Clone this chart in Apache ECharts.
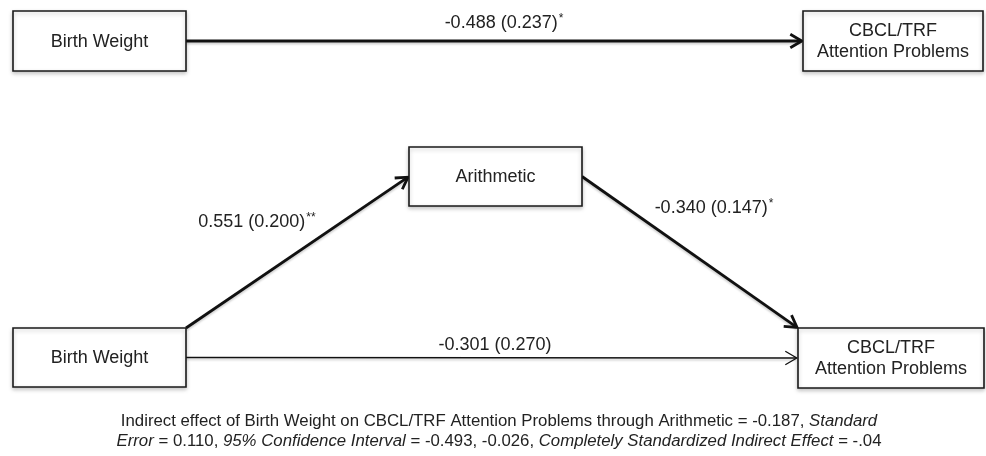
<!DOCTYPE html>
<html><head><meta charset="utf-8">
<script src="https://cdn.jsdelivr.net/npm/echarts@6/dist/echarts.min.js"></script>
<style>html,body{margin:0;padding:0;background:#fff}#c{width:986px;height:456px}</style>
</head><body><div id="c"></div>
<script>
// ---- data ----
const nodeLabels = ['Birth Weight', 'CBCL/TRF\nAttention Problems', 'Arithmetic', 'Birth Weight', 'CBCL/TRF\nAttention Problems'];
const edgeFrom = [0, 3, 2, 3];
const edgeTo = [1, 2, 4, 4];
const coefficients = ['-0.488', '0.551', '-0.340', '-0.301'];
const standardErrors = ['0.237', '0.200', '0.147', '0.270'];
const significance = ['*', '**', '*', ''];
const indirectEffect = '-0.187';
const indirectSE = '0.110';
const ciLower = '-0.493';
const ciUpper = '-0.026';
const stdIndirect = '-.04';

// ---- layout (diagram coordinates) ----
const nodeCX = [99.5, 893, 495.5, 99.5, 891];
const nodeCY = [41, 41, 176.5, 357.5, 358];
const nodeW = [173, 180, 173, 173, 186];
const nodeH = [60, 60, 59, 59, 60];
const edgeFromAnchor = ['right', 'topRight', 'right', 'right'];
const edgeToAnchor = ['left', 'left', 'topLeft', 'left'];
const edgeWidth = [2.8, 2.8, 2.8, 1.3];
const labelX = [504, 257, 714, 495];
const labelY = [23, 222, 208, 345];

const FONT = '"Liberation Sans", Arial, Helvetica, sans-serif';
const INK = '#111';
const TXT = '#222';

function anchor(i, a) {
  const cx = nodeCX[i], cy = nodeCY[i], w = nodeW[i] / 2, h = nodeH[i] / 2;
  if (a === 'right') return [cx + w, cy];
  if (a === 'left') return [cx - w, cy];
  if (a === 'topRight') return [cx + w, cy - h];
  if (a === 'topLeft') return [cx - w, cy - h];
  return [cx, cy];
}

const nodeData = nodeLabels.map((n, i) => ({ name: n, value: [nodeCX[i], nodeCY[i], nodeW[i], nodeH[i]] }));
const edgeData = edgeFrom.map((f, i) => {
  const s = anchor(f, edgeFromAnchor[i]);
  const t = anchor(edgeTo[i], edgeToAnchor[i]);
  return { value: [s[0], s[1], t[0], t[1], labelX[i], labelY[i], i] };
});

const chart = echarts.init(document.getElementById('c'), null, { renderer: 'canvas' });
chart.setOption({
  animation: false,
  grid: { left: 0, right: 0, top: 0, bottom: 0 },
  xAxis: { type: 'value', min: 0, max: 986, show: false },
  yAxis: { type: 'value', min: 0, max: 456, inverse: true, show: false },
  series: [
    {
      type: 'custom',
      coordinateSystem: 'cartesian2d',
      data: edgeData,
      z: 1,
      renderItem: function (params, api) {
        const i = api.value(6);
        const p1 = api.coord([api.value(0), api.value(1)]);
        let p2 = api.coord([api.value(2), api.value(3)]);
        const dx = p2[0] - p1[0], dy = p2[1] - p1[1];
        const len = Math.sqrt(dx * dx + dy * dy);
        const ux = dx / len, uy = dy / len;
        const nx = -uy, ny = ux;
        const lw = edgeWidth[i];
        const tip = [p2[0] - ux * 1.2, p2[1] - uy * 1.2];
        const L = 11.5, W = 6.8;
        const a1 = [tip[0] - ux * L + nx * W, tip[1] - uy * L + ny * W];
        const a2 = [tip[0] - ux * L - nx * W, tip[1] - uy * L - ny * W];
        const lp = api.coord([api.value(4), api.value(5)]);
        const star = significance[i];
        const txt = '{t|' + coefficients[i] + ' (' + standardErrors[i] + ')}' + (star ? '{s|' + star + '}' : '');
        return {
          type: 'group',
          children: [
            { type: 'line', shape: { x1: p1[0], y1: p1[1], x2: tip[0] - ux * 0.5, y2: tip[1] - uy * 0.5 },
              style: { stroke: INK, lineWidth: lw, shadowBlur: 2, shadowColor: 'rgba(0,0,0,0.18)', shadowOffsetY: 2 } },
            { type: 'polyline', shape: { points: [a1, tip, a2] },
              style: { stroke: INK, lineWidth: lw, fill: null, lineJoin: 'miter' } },
            { type: 'text', x: lp[0], y: lp[1],
              style: { text: txt, align: 'center', verticalAlign: 'middle',
                rich: {
                  t: { fontSize: 18, fontFamily: FONT, fill: TXT, lineHeight: 22 },
                  s: { fontSize: 12, fontFamily: FONT, fill: TXT, lineHeight: 22, verticalAlign: 'top', padding: [1, 0, 0, 1] }
                } } }
          ]
        };
      }
    },
    {
      type: 'custom',
      coordinateSystem: 'cartesian2d',
      data: nodeData,
      z: 2,
      renderItem: function (params, api) {
        const cx = api.value(0), cy = api.value(1), w = api.value(2), h = api.value(3);
        const tl = api.coord([cx - w / 2, cy - h / 2]);
        const br = api.coord([cx + w / 2, cy + h / 2]);
        const c = api.coord([cx, cy]);
        return {
          type: 'group',
          children: [
            { type: 'rect', shape: { x: tl[0], y: tl[1], width: br[0] - tl[0], height: br[1] - tl[1] },
              style: { fill: '#fff', stroke: '#1a1a1a', lineWidth: 1.6,
                shadowBlur: 4, shadowColor: 'rgba(0,0,0,0.22)', shadowOffsetY: 2 } },
            { type: 'text', x: c[0], y: c[1] + 1,
              style: { text: nodeLabels[params.dataIndex], align: 'center', verticalAlign: 'middle',
                fontSize: 18, fontFamily: FONT, fill: TXT, lineHeight: 21 } }
          ]
        };
      }
    }
  ],
  graphic: [
    {
      type: 'text', x: 499, y: 411, z: 10,
      style: {
        align: 'center', verticalAlign: 'top',
        text: '{n|Indirect effect of Birth Weight on CBCL/TRF Attention Problems through Arithmetic = ' + indirectEffect + ', }{i|Standard}\n' +
              '{i|Error}{n| = ' + indirectSE + ', }{i|95% Confidence Interval}{n| = ' + ciLower + ', ' + ciUpper + ', }{i|Completely Standardized Indirect Effect}{n| = ' + stdIndirect + '}',
        rich: {
          n: { fontSize: 16.8, fontFamily: FONT, fill: TXT, lineHeight: 20 },
          i: { fontSize: 16.8, fontFamily: FONT, fill: TXT, lineHeight: 20, fontStyle: 'italic' }
        }
      }
    }
  ]
});
</script></body></html>
